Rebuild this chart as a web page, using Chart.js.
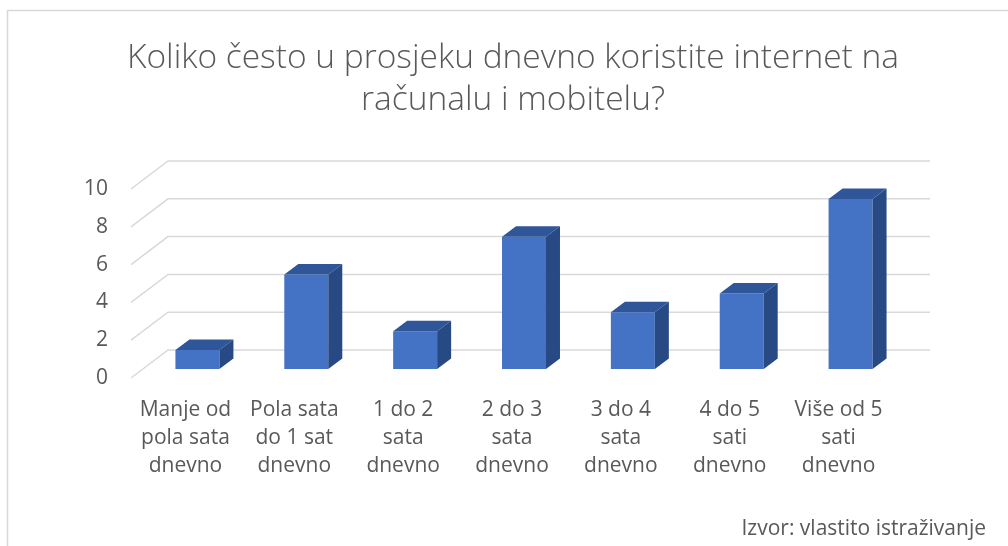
<!DOCTYPE html>
<html>
<head>
<meta charset="utf-8">
<script src="https://cdn.jsdelivr.net/npm/chart.js@4"></script>
<style>
html,body{margin:0;padding:0;background:#fff;overflow:hidden;}
#wrap{width:1008px;height:546px;position:relative;}
</style>
</head>
<body>
<div id="wrap"><canvas id="c" width="1008" height="546"></canvas></div>
<script>
const titleLines = ["Koliko često u prosjeku dnevno koristite internet na", "računalu i mobitelu?"];
const categories = [
  ["Manje od", "pola sata", "dnevno"],
  ["Pola sata", "do 1 sat", "dnevno"],
  ["1 do 2", "sata", "dnevno"],
  ["2 do 3", "sata", "dnevno"],
  ["3 do 4", "sata", "dnevno"],
  ["4 do 5", "sati", "dnevno"],
  ["Više od 5", "sati", "dnevno"]
];
const values = [1, 5, 2, 7, 3, 4, 9];
const yTicks = [0, 2, 4, 6, 8, 10];
const sourceText = "Izvor: vlastito istraživanje";

const FONT = "'Open Sans', 'Liberation Sans', sans-serif";
const TEXT = "#595959";
const GRID = "#d9d9d9";
const DEPTH = {dx: 14, dy: -10.5};
const BACK = {dx: 25, dy: -19};
const FRONT = {dx: -12, dy: 9};

const threeD = {
  id: 'threeD',
  beforeDraw(chart) {
    const ctx = chart.ctx;
    ctx.save();
    ctx.strokeStyle = GRID;
    ctx.lineWidth = 1.5;
    ctx.strokeRect(7.5, 10.5, 1200, 700);
    ctx.restore();
  },
  beforeDatasetsDraw(chart) {
    const ctx = chart.ctx;
    const ys = chart.scales.y;
    const a = chart.chartArea;
    ctx.save();
    ctx.strokeStyle = GRID;
    ctx.lineWidth = 1.5;
    ys.ticks.forEach(t => {
      const y = ys.getPixelForValue(t.value);
      ctx.beginPath();
      ctx.moveTo(a.left + FRONT.dx, y + FRONT.dy);
      ctx.lineTo(a.left + BACK.dx, y + BACK.dy);
      ctx.lineTo(a.right + BACK.dx, y + BACK.dy);
      ctx.stroke();
    });
    ctx.restore();
  },
  afterDatasetsDraw(chart) {
    const ctx = chart.ctx;
    const meta = chart.getDatasetMeta(0);
    ctx.save();
    meta.data.forEach(bar => {
      const p = bar.getProps(['x', 'y', 'base', 'width'], true);
      const l = p.x - p.width / 2, r = p.x + p.width / 2;
      ctx.fillStyle = '#30569a';
      ctx.beginPath();
      ctx.moveTo(l, p.y);
      ctx.lineTo(r, p.y);
      ctx.lineTo(r + DEPTH.dx, p.y + DEPTH.dy);
      ctx.lineTo(l + DEPTH.dx, p.y + DEPTH.dy);
      ctx.closePath();
      ctx.fill();
      ctx.fillStyle = '#284a84';
      ctx.beginPath();
      ctx.moveTo(r, p.y);
      ctx.lineTo(r + DEPTH.dx, p.y + DEPTH.dy);
      ctx.lineTo(r + DEPTH.dx, p.base + DEPTH.dy);
      ctx.lineTo(r, p.base);
      ctx.closePath();
      ctx.fill();
    });
    ctx.restore();
  },
  afterDraw(chart) {
    const ctx = chart.ctx;
    ctx.save();
    ctx.fillStyle = TEXT;
    ctx.font = "21px " + FONT;
    ctx.textAlign = 'right';
    ctx.textBaseline = 'middle';
    ctx.fillText(sourceText, 986, 529);
    ctx.restore();
  }
};

new Chart(document.getElementById('c'), {
  type: 'bar',
  data: {
    labels: categories,
    datasets: [{
      data: values,
      backgroundColor: '#4472c4',
      borderWidth: 0,
      barPercentage: 0.404,
      categoryPercentage: 1.0
    }]
  },
  options: {
    responsive: false,
    animation: false,
    events: [],
    layout: {padding: {left: 18, right: 0, top: 0, bottom: 0}},
    plugins: {
      legend: {display: false},
      tooltip: {enabled: false},
      title: {
        display: true,
        text: titleLines,
        color: TEXT,
        font: {family: FONT, size: 33.5, weight: 300, lineHeight: 1.2537},
        padding: {top: 37, bottom: 59}
      }
    },
    scales: {
      x: {
        grid: {display: false, drawTicks: false},
        border: {display: false},
        ticks: {
          color: TEXT,
          font: {family: FONT, size: 21, lineHeight: 1.333},
          padding: 27,
          labelOffset: -12,
          maxRotation: 0,
          autoSkip: false
        },
        afterFit(s) { s.height = 177; }
      },
      y: {
        min: 0, max: 10,
        afterBuildTicks(s) { s.ticks = yTicks.map(v => ({value: v})); },
        grid: {display: false, drawTicks: false},
        border: {display: false},
        ticks: {
          color: TEXT,
          font: {family: FONT, size: 21},
          padding: 35,
          labelOffset: 9
        },
        afterFit(s) { s.width = 125; }
      },
      yRight: {
        position: 'right',
        min: 0, max: 10,
        grid: {display: false, drawTicks: false},
        border: {display: false},
        ticks: {display: false},
        afterFit(s) { s.width = 103; }
      }
    }
  },
  plugins: [threeD]
});
</script>
</body>
</html>
